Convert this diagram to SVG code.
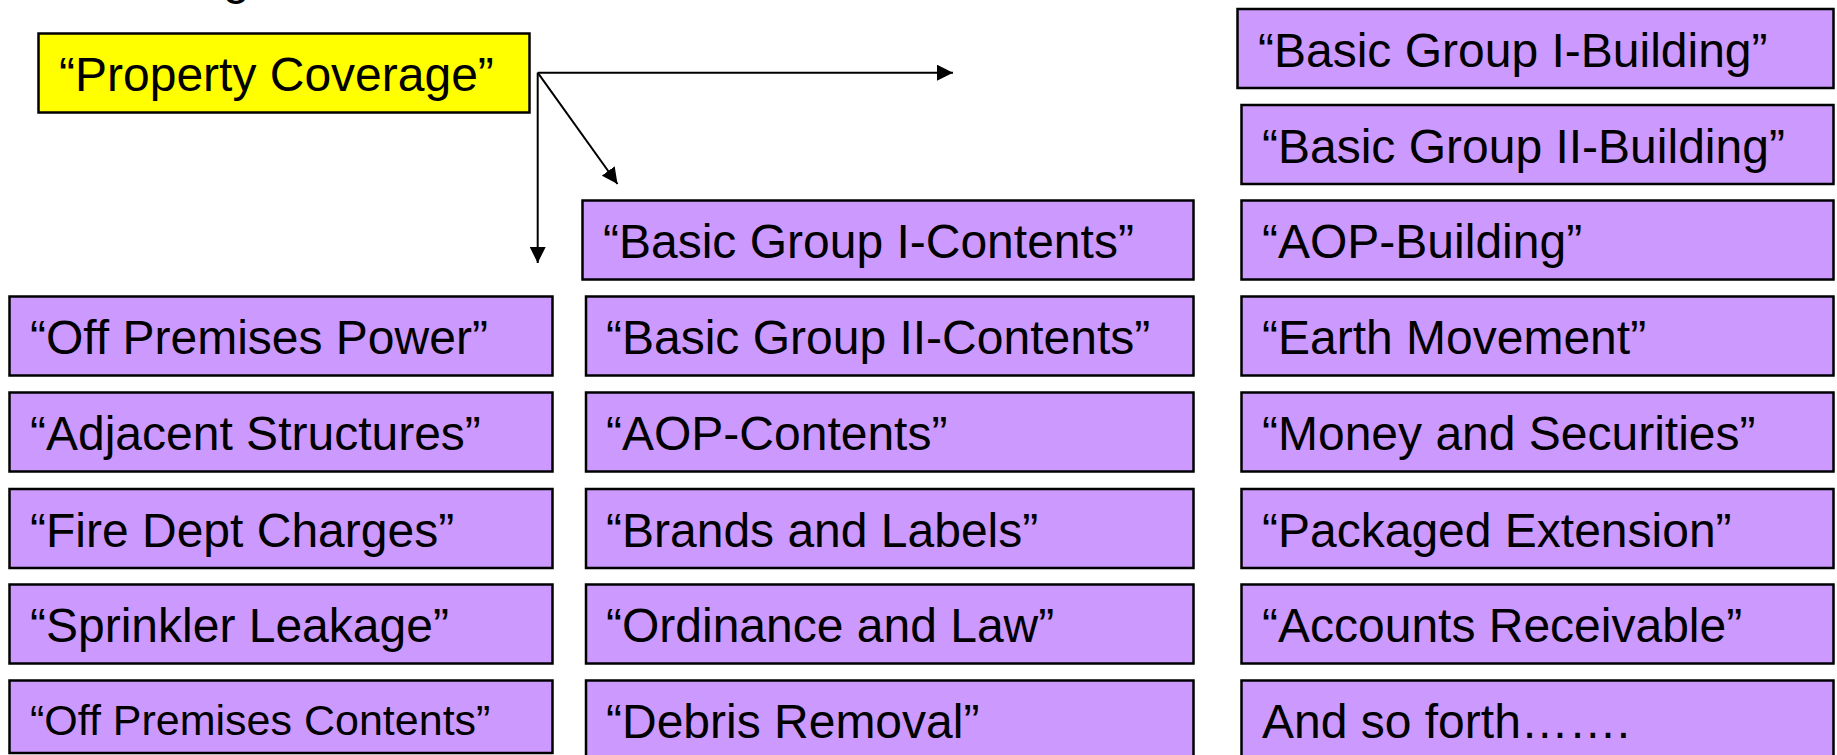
<svg xmlns="http://www.w3.org/2000/svg" width="1837" height="755" viewBox="0 0 1837 755">
<defs>
<style>
.box{fill:#CC99FF;stroke:#000;stroke-width:2.5}
.yel{fill:#FFFF00;stroke:#000;stroke-width:2.5}
text{font-family:"Liberation Sans",Arial,sans-serif;font-size:48px;fill:#000}
.sm{font-size:43px}
.ln{stroke:#000;stroke-width:2;fill:none}
</style>
<marker id="ah" viewBox="0 0 10 10" refX="10" refY="5" markerWidth="8" markerHeight="8" markerUnits="strokeWidth" orient="auto">
<path d="M0,0 L10,5 L0,10 z" fill="#000"/>
</marker>
</defs>
<rect width="1837" height="755" fill="#fff"/>
<text x="223" y="-6">g</text>
<g id="connectors">
<path class="ln" d="M537.7,72.7 H953" marker-end="url(#ah)"/>
<path class="ln" d="M537.7,72.7 V263" marker-end="url(#ah)"/>
<path class="ln" d="M537.7,72.7 L617.5,184" marker-end="url(#ah)"/>
</g>
<g id="property-coverage"><rect class="yel" x="38.5" y="33.5" width="491" height="79"/><text x="59" y="91">“Property Coverage”</text></g>

<g id="off-premises-power"><rect class="box" x="9.5" y="296.5" width="543" height="79"/><text x="30" y="354">“Off Premises Power”</text></g>
<g id="adjacent-structures"><rect class="box" x="9.5" y="392.5" width="543" height="79"/><text x="30" y="450">“Adjacent Structures”</text></g>
<g id="fire-dept-charges"><rect class="box" x="9.5" y="489" width="543" height="79"/><text x="30" y="546.5">“Fire Dept Charges”</text></g>
<g id="sprinkler-leakage"><rect class="box" x="9.5" y="584.5" width="543" height="79"/><text x="30" y="642">“Sprinkler Leakage”</text></g>
<g id="off-premises-contents"><rect class="box" x="9.5" y="680.5" width="543" height="72.5"/><text class="sm" x="30" y="735">“Off Premises Contents”</text></g>

<g id="basic-group-i-contents"><rect class="box" x="582.5" y="200.5" width="611" height="79"/><text x="603" y="258">“Basic Group I-Contents”</text></g>
<g id="basic-group-ii-contents"><rect class="box" x="586" y="296.5" width="607.5" height="79"/><text x="606" y="354">“Basic Group II-Contents”</text></g>
<g id="aop-contents"><rect class="box" x="586" y="392.5" width="607.5" height="79"/><text x="606" y="450">“AOP-Contents”</text></g>
<g id="brands-and-labels"><rect class="box" x="586" y="489" width="607.5" height="79"/><text x="606" y="546.5">“Brands and Labels”</text></g>
<g id="ordinance-and-law"><rect class="box" x="586" y="584.5" width="607.5" height="79"/><text x="606" y="642">“Ordinance and Law”</text></g>
<g id="debris-removal"><rect class="box" x="586" y="680.5" width="607.5" height="90"/><text x="606" y="738">“Debris Removal”</text></g>

<g id="basic-group-i-building"><rect class="box" x="1237.5" y="9" width="596" height="79"/><text x="1258" y="66.5">“Basic Group I-Building”</text></g>
<g id="basic-group-ii-building"><rect class="box" x="1241.5" y="105" width="592" height="79"/><text x="1262" y="162.5">“Basic Group II-Building”</text></g>
<g id="aop-building"><rect class="box" x="1241.5" y="200.5" width="592" height="79"/><text x="1262" y="258">“AOP-Building”</text></g>
<g id="earth-movement"><rect class="box" x="1241.5" y="296.5" width="592" height="79"/><text x="1262" y="354">“Earth Movement”</text></g>
<g id="money-and-securities"><rect class="box" x="1241.5" y="392.5" width="592" height="79"/><text x="1262" y="450">“Money and Securities”</text></g>
<g id="packaged-extension"><rect class="box" x="1241.5" y="489" width="592" height="79"/><text x="1262" y="546.5">“Packaged Extension”</text></g>
<g id="accounts-receivable"><rect class="box" x="1241.5" y="584.5" width="592" height="79"/><text x="1262" y="642">“Accounts Receivable”</text></g>
<g id="and-so-forth"><rect class="box" x="1241.5" y="680.5" width="592" height="90"/><text x="1262" y="738">And so forth…….</text></g>
</svg>
